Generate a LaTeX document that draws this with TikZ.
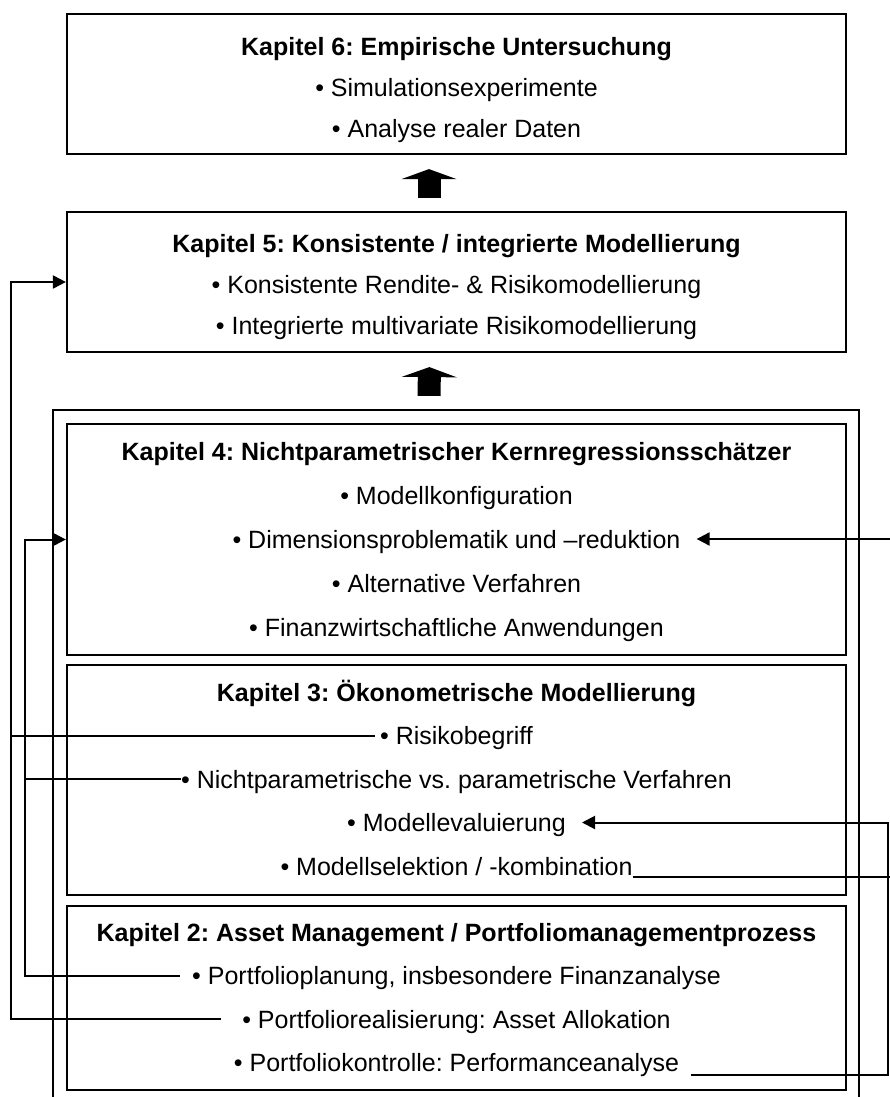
\documentclass[tikz,border=0pt]{standalone}
\usepackage{fontspec}
\setmainfont{Liberation Sans}
\frenchspacing
\usepackage{tikz}
\usetikzlibrary{arrows.meta, positioning}
\tikzstyle{chapbox} = [rectangle, draw, line width=2.2pt, minimum width=779pt, inner sep=0pt]
\tikzstyle{frame} = [rectangle, draw, line width=2.2pt, minimum width=806pt, minimum height=700pt, inner sep=0pt]
\tikzstyle{head} = [font=\fontsize{25}{29}\selectfont\bfseries, text height=18pt, text depth=0pt, inner sep=0pt]
\tikzstyle{item} = [font=\fontsize{25}{29}\selectfont, text height=18pt, text depth=0pt, inner sep=0pt]
\tikzstyle{line} = [draw, line width=2pt]
\tikzstyle{arrow} = [draw, line width=2pt, -{Triangle[length=13pt, width=13pt]}]
\tikzstyle{bigarrow} = [draw, line width=23pt, -{Triangle[length=10pt, width=55pt, line width=0pt]}, shorten <=13pt, shorten >=14pt]

\begin{document}
\begin{tikzpicture}[x=1pt, y=-1pt, node distance=43.5pt]
    \useasboundingbox (0,0) rectangle (890,1097);

    % boxes
    \node[chapbox, minimum height=140pt](k6) at (456.5,84){};
    \node[chapbox, minimum height=140pt](k5) at (456.5,282){};
    \node[frame](outer) at (456,760){};
    \node[chapbox, minimum height=231pt](k4) at (456.5,539.5){};
    \node[chapbox, minimum height=230pt](k3) at (456.5,780){};
    \node[chapbox, minimum height=184pt](k2) at (456.5,998){};

    % Kapitel 6
    \node[head](t6) at (456.5,47){Kapitel 6: Empirische Untersuchung};
    \node[item, below of=t6, node distance=41pt](sim){• Simulationsexperimente};
    \node[item, below of=sim, node distance=41pt](real){• Analyse realer Daten};

    % Kapitel 5
    \node[head](t5) at (456.5,243){Kapitel 5: Konsistente / integrierte Modellierung};
    \node[item, below of=t5, node distance=41pt](kons){• Konsistente Rendite- \& Risikomodellierung};
    \node[item, below of=kons, node distance=41.5pt](integ){• Integrierte multivariate Risikomodellierung};

    % Kapitel 4
    \node[head](t4) at (456.5,451){Kapitel 4: Nichtparametrischer Kernregressionsschätzer};
    \node[item, below of=t4, node distance=44pt](konf){• Modellkonfiguration};
    \node[item, below of=konf, node distance=44pt](dim){• Dimensionsproblematik und –reduktion};
    \node[item, below of=dim, node distance=44pt](alt){• Alternative Verfahren};
    \node[item, below of=alt, node distance=44pt](anw){• Finanzwirtschaftliche Anwendungen};

    % Kapitel 3
    \node[head](t3) at (456.5,692){Kapitel 3: Ökonometrische Modellierung};
    \node[item, below of=t3](risk){• Risikobegriff};
    \node[item, below of=risk](npar){• Nichtparametrische vs. parametrische Verfahren};
    \node[item, below of=npar](meval){• Modellevaluierung};
    \node[item, below of=meval](msel){• Modellselektion / -kombination};

    % Kapitel 2
    \node[head](t2) at (456.5,932){Kapitel 2: Asset Management / Portfoliomanagementprozess};
    \node[item, below of=t2](pplan){• Portfolioplanung, insbesondere Finanzanalyse};
    \node[item, below of=pplan](preal){• Portfoliorealisierung: Asset Allokation};
    \node[item, below of=preal](pkon){• Portfoliokontrolle: Performanceanalyse};

    % side rails
    \coordinate (railA) at (11,0);
    \coordinate (railB) at (25,0);
    \coordinate (railC) at (888,0);
    \coordinate (railD) at (893,0);

    \path[bigarrow] ([xshift=-27.5pt]k5.north) -- ([xshift=-27.5pt]k6.south);
    \path[bigarrow] ([xshift=-27pt]outer.north) -- ([xshift=-27pt]k5.south);

    \path[arrow] ([xshift=-5pt]risk.west) -| (railA |- k5.west) -- (k5.west);
    \path[line] ([xshift=-21pt]preal.west) -| (railA |- risk.west);
    \path[arrow] (npar.west) -| (railB |- k4.west) -- (k4.west);
    \path[line] ([xshift=-12pt]pplan.west) -| (railB |- npar.west);
    \path[arrow] ([yshift=-11pt]msel.east) -| (railD |- dim.east) -- ([xshift=16pt]dim.east);
    \path[arrow] ([xshift=12pt, yshift=-12pt]pkon.east) -| (railC |- meval.east) -- ([xshift=16pt]meval.east);
\end{tikzpicture}
\end{document}
